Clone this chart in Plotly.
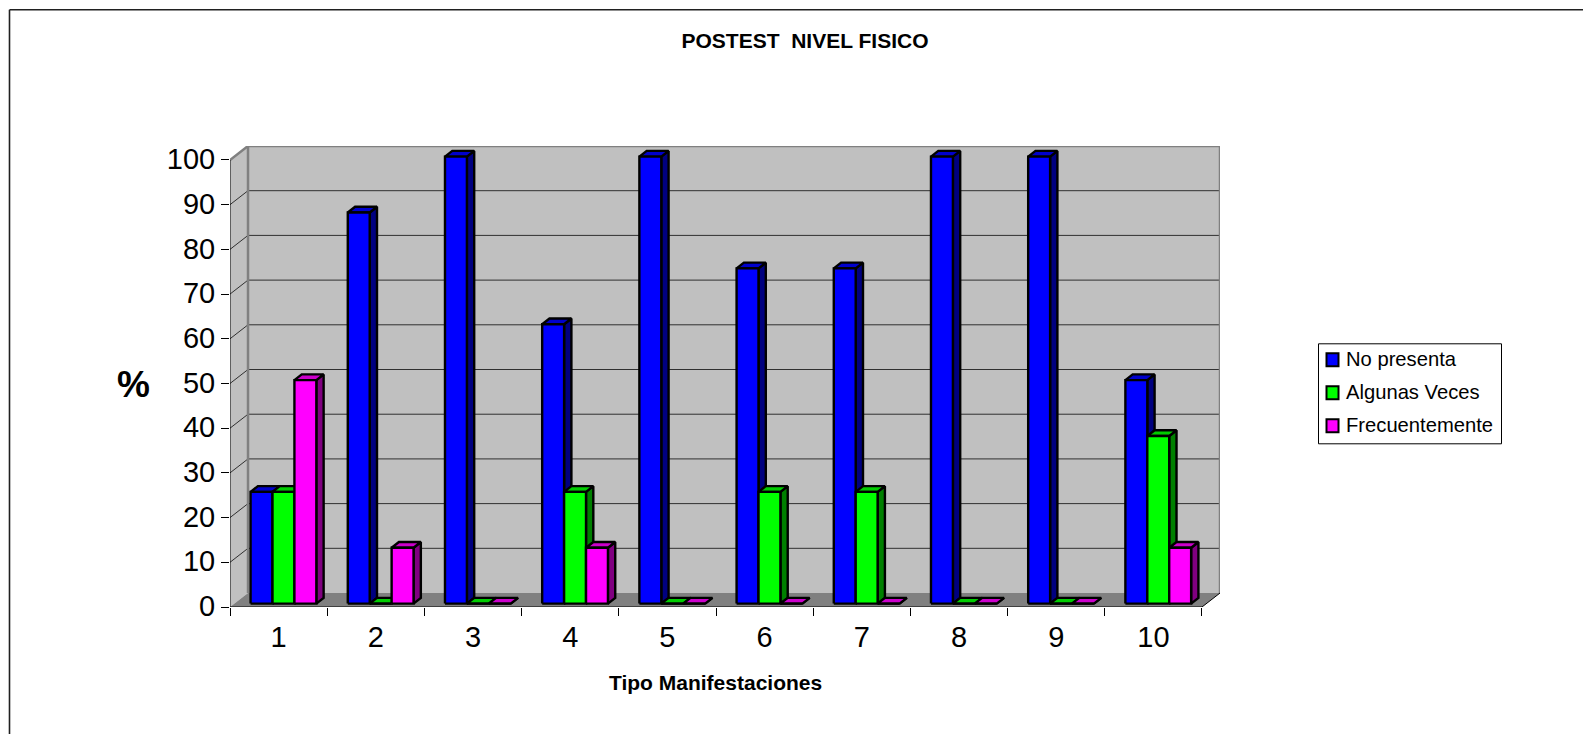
import plotly.graph_objects as go

# ---------- data ----------
categories = [1, 2, 3, 4, 5, 6, 7, 8, 9, 10]
no_presenta = [25, 87.5, 100, 62.5, 100, 75, 75, 100, 100, 50]
algunas_veces = [25, 0, 0, 25, 0, 25, 25, 0, 0, 37.5]
frecuentemente = [50, 12.5, 0, 12.5, 0, 0, 0, 0, 0, 12.5]
y_ticks = list(range(0, 101, 10))
series_names = ["No presenta", "Algunas Veces", "Frecuentemente"]
front_colors = ["#0000FF", "#00FF00", "#FF00FF"]
side_colors = ["#000080", "#008000", "#800080"]
top_colors = ["#0000CC", "#00CC00", "#CC00CC"]

# ---------- geometry (page px) ----------
W, H = 1583, 734
L, R, T, B = 230.0, 1220.0, 145.7, 606.7
CAT_W = 97.17
UNIT = 4.477
DX, DY = 18.0 / CAT_W, 14.0 / UNIT      # depth of the box in data units
XMIN, XMAX = 0.5, 10.5 + DX
YMAX = 100 + DY
BAR_W = 0.2255
BAR_SHIFT = 0.05
BAR_BASE = 0.76
BDX, BDY = 7.3 / CAT_W, 5.7 / UNIT      # depth of one bar
FONT = "Liberation Sans, Arial, sans-serif"


def px(x):
    return (x - L) / (R - L)


def py(y):
    return (B - y) / (B - T)


fig = go.Figure()


def poly(xs, ys, fill, line_color=None, width=0):
    fig.add_trace(go.Scatter(
        x=xs, y=ys, mode="lines", fill="toself", fillcolor=fill,
        line=dict(color=line_color or fill, width=width),
        showlegend=False, hoverinfo="skip"))


# walls and floor
poly([XMIN, XMIN + DX, XMIN + DX, XMIN], [0, DY, YMAX, 100], "#C0C0C0")
poly([XMIN + DX, XMAX, XMAX, XMIN + DX], [DY, DY, YMAX, YMAX], "#C0C0C0")
poly([XMIN, XMAX - DX, XMAX, XMIN + DX], [0, 0, DY, DY], "#808080")

# grid lines: on the back wall and across the side wall
gx, gy = [], []
for v in y_ticks[1:-1]:
    gx += [XMIN, XMIN + DX, XMAX, None]
    gy += [v, v + DY, v + DY, None]
fig.add_trace(go.Scatter(x=gx, y=gy, mode="lines", line=dict(color="#303030", width=1),
                         showlegend=False, hoverinfo="skip"))
# wall edges
fig.add_trace(go.Scatter(
    x=[XMIN, XMIN + DX, XMAX, XMAX, None, XMIN + DX, XMIN + DX],
    y=[100, YMAX, YMAX, DY, None, DY, YMAX],
    mode="lines", line=dict(color="#808080", width=2.5), showlegend=False, hoverinfo="skip"))
# front axes
fig.add_trace(go.Scatter(
    x=[XMIN, XMIN, XMAX - DX, XMAX, None],
    y=[100, 0, 0, DY, None],
    mode="lines", line=dict(color="#000000", width=1), showlegend=False, hoverinfo="skip",
    cliponaxis=False))

# bars, painted series by series so nearer faces cover farther ones
all_series = [no_presenta, algunas_veces, frecuentemente]
for k, values in enumerate(all_series):
    sx, sy, tx, ty, fx, fy = [], [], [], [], [], []
    for c, v in zip(categories, values):
        x0 = c + BAR_SHIFT + (k - 1.5) * BAR_W
        x1 = x0 + BAR_W
        y0 = BAR_BASE
        y1 = v + BAR_BASE
        sx += [x1, x1 + BDX, x1 + BDX, x1, x1, None]
        sy += [y0, y0 + BDY, y1 + BDY, y1, y0, None]
        tx += [x0, x0 + BDX, x1 + BDX, x1, x0, None]
        ty += [y1, y1 + BDY, y1 + BDY, y1, y1, None]
        fx += [x0, x1, x1, x0, x0, None]
        fy += [y0, y0, y1, y1, y0, None]
    for xs, ys, col in ((sx, sy, side_colors[k]), (tx, ty, top_colors[k]), (fx, fy, front_colors[k])):
        poly(xs, ys, col, "#000000", 2.4)

# label-only axis for the category numbers
fig.add_trace(go.Scatter(x=categories, y=[None] * 10, xaxis="x2", showlegend=False, hoverinfo="skip"))

# frame and legend box
shapes = [
    dict(type="line", xref="paper", yref="paper", x0=px(9.5), x1=px(1583), y0=py(9.5), y1=py(9.5),
         line=dict(color="#202020", width=1.6), layer="below"),
    dict(type="line", xref="paper", yref="paper", x0=px(9.5), x1=px(9.5), y0=py(9.5), y1=py(734),
         line=dict(color="#202020", width=1.6), layer="below"),
    dict(type="rect", xref="paper", yref="paper", x0=px(1318.5), x1=px(1501.5), y0=py(343.5), y1=py(443.5),
         line=dict(color="#000000", width=1), fillcolor="#FFFFFF"),
]
annotations = [
    dict(text="<b>%</b>", x=px(133.5), y=py(384), xref="paper", yref="paper", showarrow=False,
         xanchor="center", yanchor="middle", font=dict(size=37, family=FONT, color="#000000")),
    dict(text="<b>Tipo Manifestaciones</b>", x=px(715), y=py(682), xref="paper", yref="paper",
         showarrow=False, xanchor="center", yanchor="middle", font=dict(size=21, family=FONT, color="#000000")),
]
for k, name in enumerate(series_names):
    row = 359.5 + 33 * k
    shapes.append(dict(type="rect", xref="paper", yref="paper", x0=px(1326.5), x1=px(1338.5),
                       y0=py(row - 6.5), y1=py(row + 6.5), fillcolor=front_colors[k],
                       line=dict(color="#000000", width=2)))
    annotations.append(dict(text=name, x=px(1343.5), y=py(row - 1), xref="paper", yref="paper", showarrow=False,
                            xanchor="left", yanchor="middle",
                            font=dict(size=20.2, family=FONT, color="#000000")))

fig.update_layout(
    width=W, height=H, autosize=False, showlegend=False,
    margin=dict(l=L, r=W - R, t=T, b=H - B, pad=0),
    paper_bgcolor="#FFFFFF", plot_bgcolor="rgba(0,0,0,0)",
    font=dict(family=FONT, color="#000000"),
    title=dict(text="POSTEST\u00a0\u00a0NIVEL FISICO", x=px(805), xref="paper", xanchor="center",
               y=1 - 40.5 / H, yref="container", yanchor="middle",
               font=dict(size=21, family=FONT, color="#000000", weight="bold")),
    xaxis=dict(range=[XMIN, XMAX], tickmode="array",
               tickvals=[c - 0.5 for c in categories] + [categories[-1] + 0.5],
               ticktext=[""] * 11, ticks="outside", ticklen=8, tickwidth=1, tickcolor="#000000",
               showgrid=False, zeroline=False, showline=False),
    xaxis2=dict(range=[XMIN, XMAX], overlaying="x", side="bottom", anchor="y", tickmode="array",
                tickvals=categories, ticktext=[str(c) for c in categories], ticks="outside", ticklen=4,
                tickcolor="rgba(0,0,0,0)", tickfont=dict(size=29, family=FONT, color="#000000"),
                showgrid=False, zeroline=False, showline=False),
    yaxis=dict(range=[0, YMAX], tickmode="array", tickvals=y_ticks, ticks="outside", ticklen=8,
               tickwidth=1, tickcolor="#000000", tickfont=dict(size=29, family=FONT, color="#000000"),
               ticklabelshift=-1, showgrid=False, zeroline=False, showline=False),
    shapes=shapes,
    annotations=annotations,
)
fig.write_html("out.html", config=dict(displayModeBar=False), post_script=(
    "document.body.style.margin='0';"
    "document.documentElement.style.overflow='hidden';"
))
